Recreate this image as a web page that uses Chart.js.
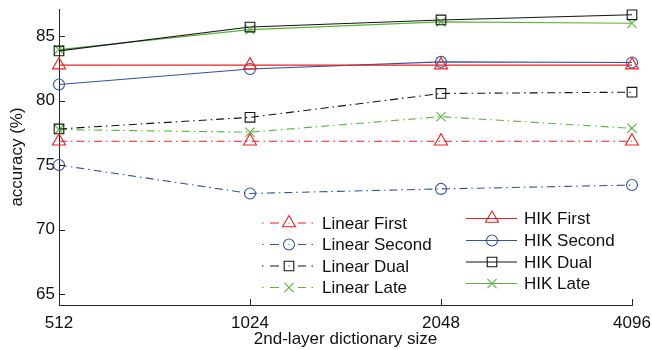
<!DOCTYPE html>
<html>
<head>
<meta charset="utf-8">
<script src="https://cdn.jsdelivr.net/npm/chart.js@4.4.1/dist/chart.umd.min.js"></script>
<style>
  html, body { margin: 0; padding: 0; background: #fff; }
  #wrap { width: 652px; height: 350px; }
</style>
</head>
<body>
<div id="wrap"><canvas id="c" width="652" height="350"></canvas></div>
<script>
// ---- data ----
const dictSizes    = ['512', '1024', '2048', '4096'];
const yTicks       = [65, 70, 75, 80, 85];
const linearFirst  = [76.85, 76.85, 76.85, 76.85];
const linearSecond = [75.0, 72.8, 73.15, 73.45];
const linearDual   = [77.8, 78.7, 80.55, 80.65];
const linearLate   = [77.75, 77.55, 78.75, 77.85];
const hikFirst     = [82.75, 82.75, 82.75, 82.75];
const hikSecond    = [81.25, 82.45, 83.0, 82.95];
const hikDual      = [83.85, 85.7, 86.25, 86.65];
const hikLate      = [83.95, 85.5, 86.1, 86.0];

const RED = 'rgb(240,30,30)', BLUE = 'rgb(50,80,170)', BLACK = '#151515', GREEN = 'rgb(90,180,60)';
const AXIS = '#262626';
const FONT = '"Liberation Sans", Arial, sans-serif';
const DASHDOT = [8, 4, 1.5, 4];

function ds(label, data, color, marker, radius, dashed, legendCol) {
  return {
    label, data,
    borderColor: color, backgroundColor: 'rgba(0,0,0,0)',
    borderWidth: 1.1, borderDash: dashed ? DASHDOT : [],
    pointStyle: marker, pointRadius: radius, pointBorderWidth: 1.1,
    pointBackgroundColor: 'rgba(0,0,0,0)', pointBorderColor: color,
    tension: 0, clip: false, legendCol
  };
}

const datasets = [
  ds('Linear First',  linearFirst,  RED,   'triangle', 7.5, true, 0),
  ds('Linear Second', linearSecond, BLUE,  'circle',   5.5, true, 0),
  ds('Linear Dual',   linearDual,   BLACK, 'rect',     6.8, true, 0),
  ds('Linear Late',   linearLate,   GREEN, 'crossRot', 6.5, true, 0),
  ds('HIK First',     hikFirst,     RED,   'triangle', 7.5, false, 1),
  ds('HIK Second',    hikSecond,    BLUE,  'circle',   5.5, false, 1),
  ds('HIK Dual',      hikDual,      BLACK, 'rect',     6.8, false, 1),
  ds('HIK Late',      hikLate,      GREEN, 'crossRot', 6.5, false, 1)
];

// marker drawing for the legend samples
function marker(ctx, style, r, x, y) {
  ctx.beginPath();
  if (style === 'circle') {
    ctx.arc(x, y, r, 0, Math.PI * 2);
  } else if (style === 'triangle') {
    const h = r * 0.866;
    ctx.moveTo(x, y - r);
    ctx.lineTo(x + h, y + r / 2);
    ctx.lineTo(x - h, y + r / 2);
    ctx.closePath();
  } else if (style === 'rect') {
    const s = r * Math.SQRT1_2;
    ctx.rect(x - s, y - s, 2 * s, 2 * s);
  } else if (style === 'crossRot') {
    const s = r * Math.SQRT1_2;
    ctx.moveTo(x - s, y - s); ctx.lineTo(x + s, y + s);
    ctx.moveTo(x - s, y + s); ctx.lineTo(x + s, y - s);
  }
  ctx.stroke();
}

// inward ticks + two-column legend
const matlabDecor = {
  id: 'matlabDecor',
  afterDatasetsDraw(chart) {
    const ctx = chart.ctx;
    const xs = chart.scales.x, ys = chart.scales.y;
    const ca = chart.chartArea;
    ctx.save();
    ctx.strokeStyle = AXIS;
    ctx.lineWidth = 1;
    ctx.setLineDash([]);
    yTicks.forEach(v => {
      const py = Math.round(ys.getPixelForValue(v)) + 0.5;
      ctx.beginPath(); ctx.moveTo(ca.left, py); ctx.lineTo(ca.left + 6, py); ctx.stroke();
    });
    dictSizes.forEach((c, i) => {
      const px = Math.round(xs.getPixelForValue(i)) + 0.5;
      ctx.beginPath(); ctx.moveTo(px, ca.bottom); ctx.lineTo(px, ca.bottom - 6); ctx.stroke();
    });

    // legend
    const cols = [
      { x0: 262, x1: 313, mx: 289, tx: 322, rows: [223, 244.5, 266, 287.5] },
      { x0: 466, x1: 517, mx: 492, tx: 524, rows: [218.5, 240.5, 262, 283.5] }
    ];
    ctx.font = '17px ' + FONT;
    ctx.textBaseline = 'middle';
    ctx.textAlign = 'left';
    const counters = [0, 0];
    chart.data.datasets.forEach(d => {
      const col = cols[d.legendCol];
      const y = col.rows[counters[d.legendCol]++];
      ctx.strokeStyle = d.borderColor;
      ctx.lineWidth = 1.1;
      if (d.borderDash.length) {
        // dot, dash, marker, dash, dot
        ctx.beginPath();
        ctx.moveTo(col.x0, y); ctx.lineTo(col.x0 + 1.5, y);
        ctx.moveTo(col.x0 + 8, y); ctx.lineTo(col.x0 + 17, y);
        ctx.moveTo(col.mx + 9, y); ctx.lineTo(col.mx + 17, y);
        ctx.moveTo(col.x1 - 1.5, y); ctx.lineTo(col.x1, y);
        ctx.stroke();
        ctx.fillStyle = d.borderColor;
        ctx.fillRect(col.mx - 0.5, y - 0.5, 1, 1);
      } else {
        ctx.beginPath(); ctx.moveTo(col.x0, y); ctx.lineTo(col.x1, y); ctx.stroke();
      }
      marker(ctx, d.pointStyle, d.pointRadius, col.mx, y);
      ctx.fillStyle = '#111';
      ctx.fillText(d.label, col.tx, y + 1);
    });
    ctx.restore();
  }
};

new Chart(document.getElementById('c'), {
  type: 'line',
  data: { labels: dictSizes, datasets },
  plugins: [matlabDecor],
  options: {
    responsive: false,
    animation: false,
    layout: { padding: { top: 9, right: 20, left: 0, bottom: 0 } },
    plugins: { legend: { display: false }, tooltip: { enabled: false } },
    scales: {
      x: {
        type: 'category',
        offset: false,
        grid: { display: true, drawOnChartArea: false, drawTicks: false, color: AXIS },
        border: { display: true, color: AXIS, width: 1 },
        ticks: { color: '#111', font: { family: FONT, size: 17 }, padding: 8, maxRotation: 0, autoSkip: false },
        title: { display: true, text: '2nd-layer dictionary size', color: '#111', font: { family: FONT, size: 17 }, padding: { top: 4, bottom: 0 } },
        afterFit(s) { s.height = 45; s.paddingLeft = 0; s.paddingRight = 0; }
      },
      y: {
        min: 64.15, max: 87.1,
        grid: { display: true, drawOnChartArea: false, drawTicks: false, color: 'rgba(0,0,0,0)' },
        border: { display: true, color: AXIS, width: 1 },
        afterBuildTicks(s) { s.ticks = yTicks.map(v => ({ value: v })); },
        ticks: { color: '#111', font: { family: FONT, size: 17 }, padding: 4 },
        title: { display: true, text: 'accuracy (%)', color: '#111', font: { family: FONT, size: 17 }, padding: { top: 7, bottom: 0 } },
        afterFit(s) { s.width = 59; s.paddingTop = 0; s.paddingBottom = 0; }
      }
    }
  }
});
</script>
</body>
</html>
